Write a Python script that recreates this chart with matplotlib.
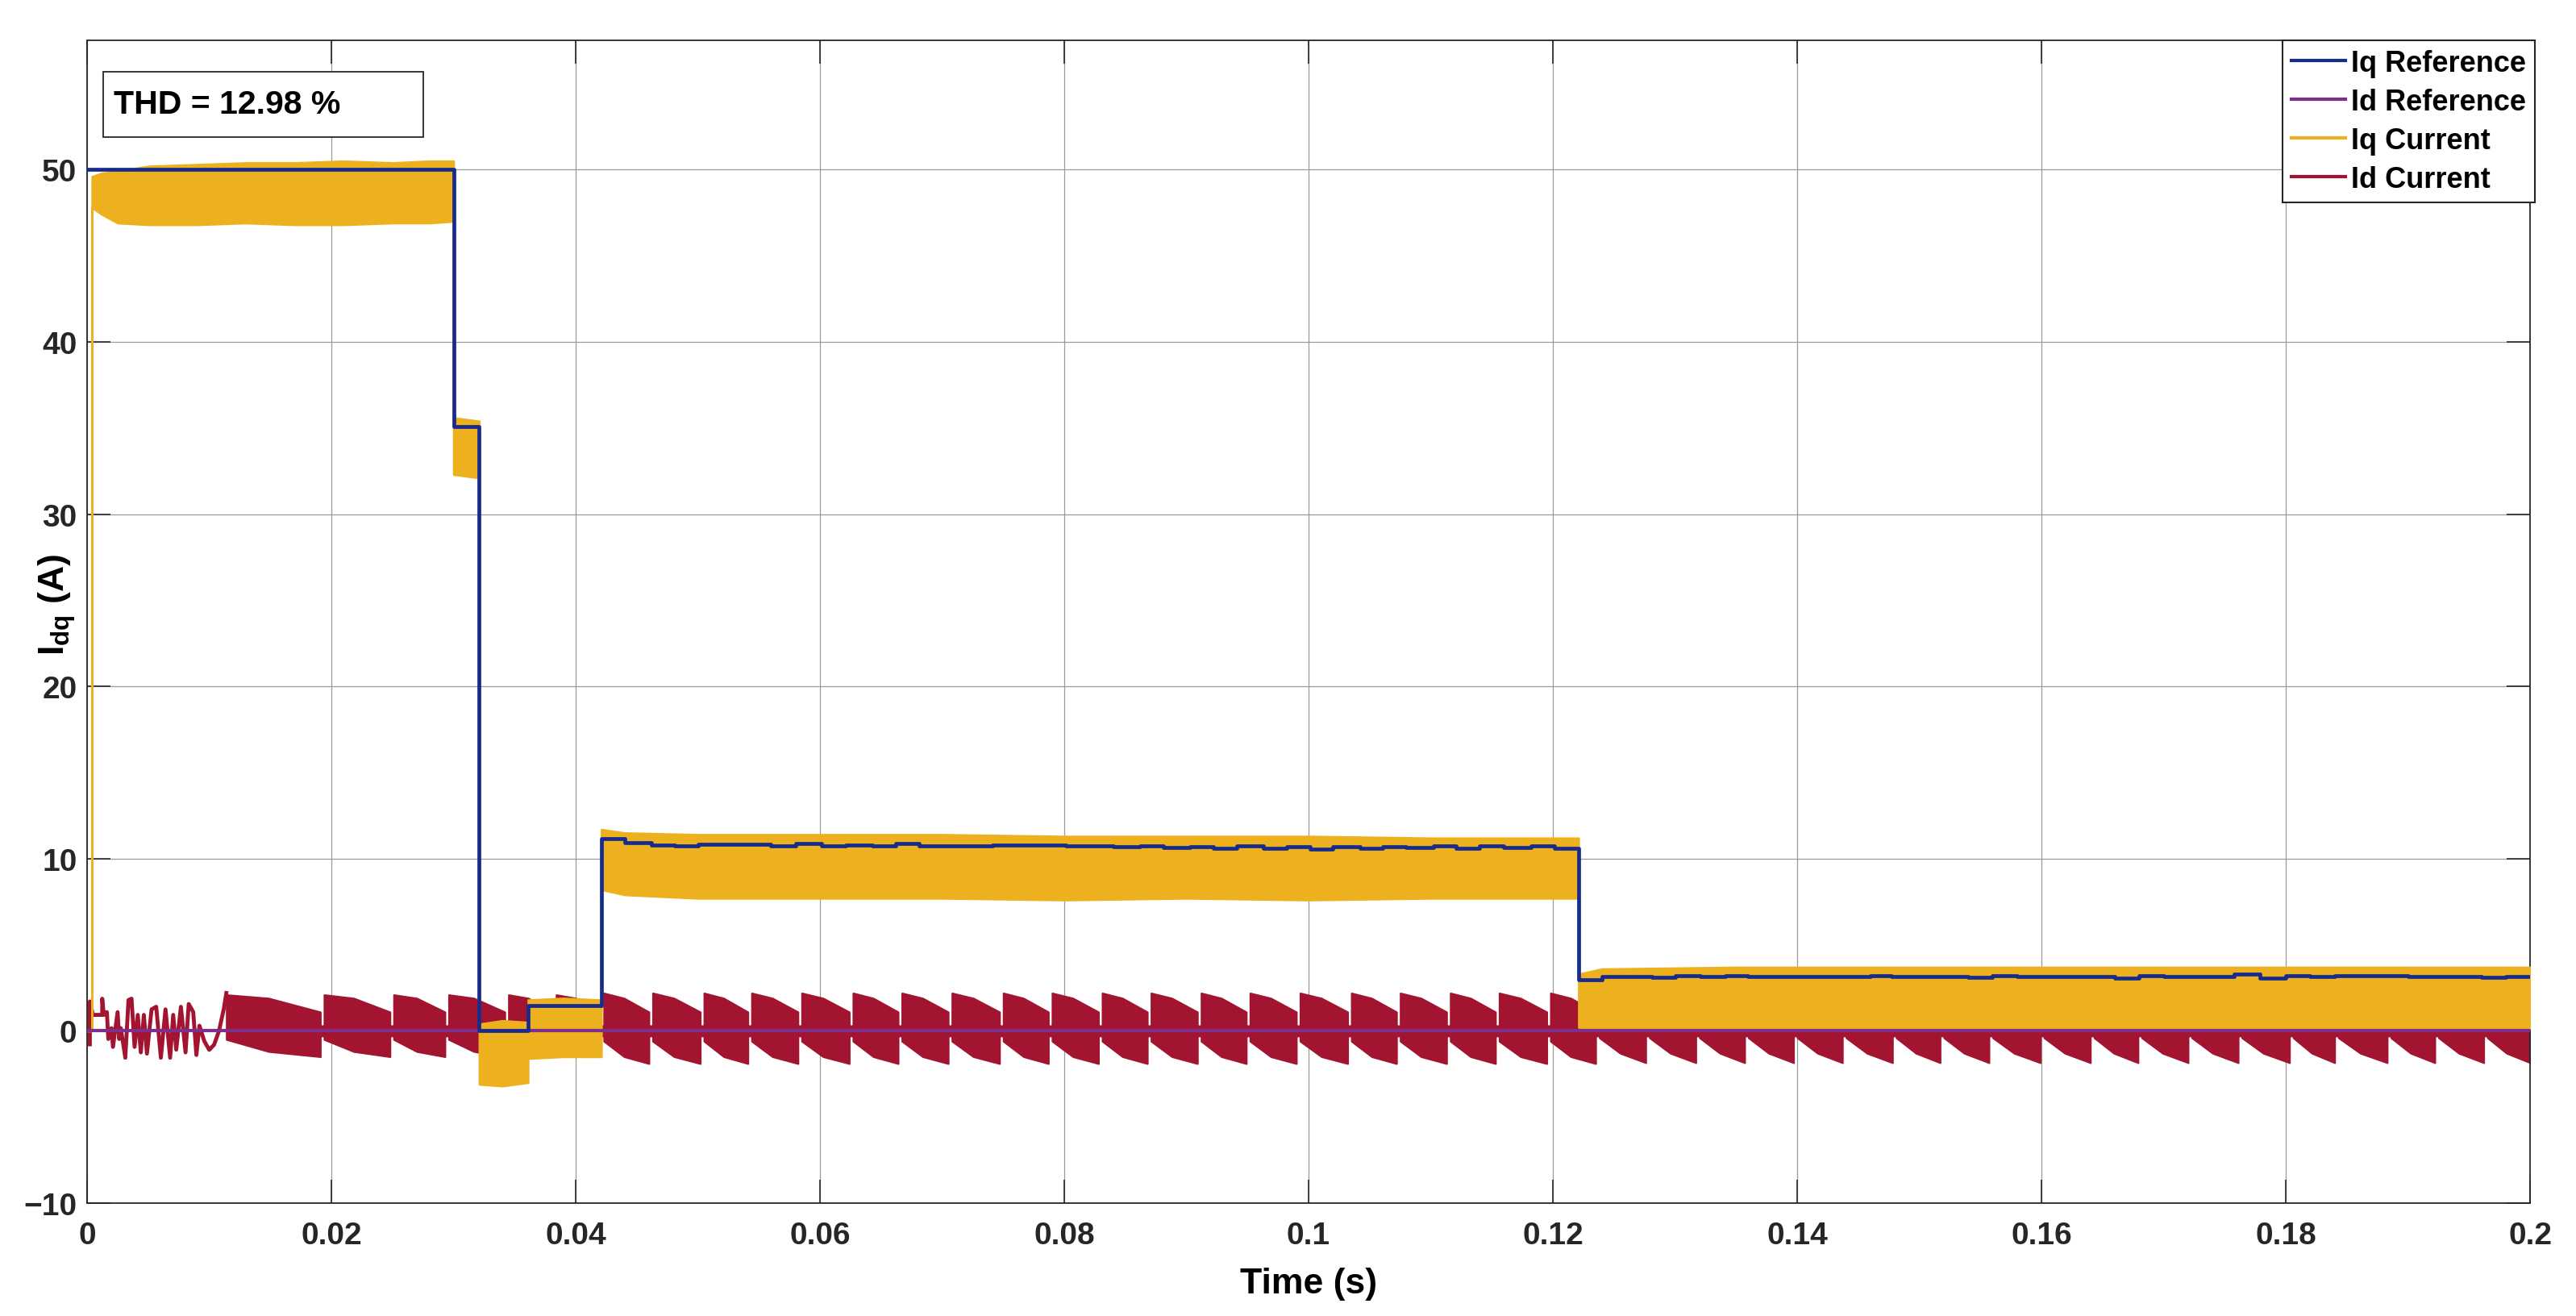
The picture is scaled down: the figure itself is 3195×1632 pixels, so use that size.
import numpy as np
import matplotlib
matplotlib.use("Agg")
from matplotlib import pyplot as plt
from matplotlib.lines import Line2D
from matplotlib.patches import Rectangle

# ---- values ----
# Iq reference, step levels (start time, level)
iq_ref_t = [0.0, 0.0300, 0.0321, 0.0361, 0.0421, 0.0440, 0.0462, 0.0481, 0.0500, 0.0560,
            0.0580, 0.0601, 0.0621, 0.0643, 0.0662, 0.0681, 0.0701, 0.0722, 0.0741, 0.0801,
            0.0840, 0.0862, 0.0881, 0.0903, 0.0922, 0.0941, 0.0963, 0.0982, 0.1001, 0.1020,
            0.1042, 0.1061, 0.1080, 0.1102, 0.1121, 0.1140, 0.1160, 0.1182, 0.1201, 0.1221,
            0.1240, 0.1281, 0.1300, 0.1321, 0.1341, 0.1360, 0.1460, 0.1477, 0.1540, 0.1560,
            0.1580, 0.1660, 0.1680, 0.1700, 0.1758, 0.1779, 0.1800, 0.1820, 0.1840, 0.1860,
            0.1900, 0.1960, 0.1980, 0.2000]
iq_ref_v = [50.0, 35.1, 0.0, 1.47, 11.14, 10.95, 10.80, 10.75, 10.83, 10.75,
            10.86, 10.72, 10.78, 10.75, 10.86, 10.72, 10.75, 10.72, 10.78, 10.72,
            10.67, 10.75, 10.66, 10.70, 10.62, 10.72, 10.59, 10.70, 10.55, 10.70,
            10.59, 10.70, 10.66, 10.75, 10.62, 10.75, 10.64, 10.75, 10.59, 2.96,
            3.16, 3.11, 3.19, 3.16, 3.22, 3.15, 3.19, 3.15, 3.11, 3.18,
            3.15, 3.07, 3.20, 3.16, 3.29, 3.04, 3.20, 3.15, 3.18, 3.21,
            3.15, 3.11, 3.15, 3.15]

# Id reference
id_ref_t = [0.0, 0.2]
id_ref_v = [0.0, 0.0]

# Iq current, ripple band (upper / lower envelope)
iq_cur_t = [0.0, 0.0004, 0.0004, 0.0012, 0.0025, 0.0050, 0.0090, 0.0130, 0.0170, 0.0210, 0.0250, 0.0280, 0.0300,
            0.0300, 0.0321,
            0.0321, 0.0340, 0.0361,
            0.0361, 0.0390, 0.0421,
            0.0421, 0.0440, 0.0500, 0.0600, 0.0700, 0.0800, 0.0900, 0.1000, 0.1100, 0.1221,
            0.1221, 0.1240, 0.1350, 0.1500, 0.1650, 0.1800, 0.2000]
iq_cur_hi = [0.0, 0.0, 49.6, 49.8, 49.9, 50.2, 50.3, 50.4, 50.4, 50.5, 50.4, 50.5, 50.5,
             35.6, 35.4,
             0.4, 0.6, 0.5,
             1.8, 1.9, 1.8,
             11.7, 11.5, 11.4, 11.4, 11.4, 11.3, 11.3, 11.3, 11.2, 11.2,
             3.3, 3.6, 3.7, 3.7, 3.7, 3.7, 3.7]
iq_cur_lo = [0.0, 0.0, 47.8, 47.4, 46.9, 46.8, 46.8, 46.9, 46.8, 46.8, 46.9, 46.9, 47.0,
             32.3, 32.1,
             -3.1, -3.2, -3.0,
             -1.6, -1.5, -1.5,
             8.2, 7.9, 7.7, 7.7, 7.7, 7.6, 7.7, 7.6, 7.7, 7.7,
             0.2, 0.15, 0.15, 0.15, 0.15, 0.15, 0.15]

# Id current, start-up part (single trace)
id_early_t = [0.00023, 0.00023, 0.00048, 0.00124, 0.00124, 0.00137, 0.00162, 0.00174, 0.00200, 0.00212,
              0.00250, 0.00263, 0.00276, 0.00313, 0.00339, 0.00364, 0.00389, 0.00415, 0.00440, 0.00465,
              0.00490, 0.00528, 0.00566, 0.00604, 0.00642, 0.00680, 0.00705, 0.00730, 0.00768, 0.00806,
              0.00832, 0.00869, 0.00895, 0.00920, 0.00960, 0.01000, 0.01040, 0.01080, 0.01120, 0.01140]
id_early_v = [-0.78, 1.71, 0.93, 0.93, 1.87, 0.93, 1.09, -0.47, 0.16, -0.93,
              1.09, -0.47, 0.16, -1.56, 1.79, 1.87, -0.93, 0.93, -1.25, 0.93,
              -1.32, 1.25, 1.40, -1.56, 1.25, -1.56, 0.93, -1.09, 1.40, -1.25,
              1.56, 1.10, -1.40, 0.30, -0.60, -1.10, -0.80, 0.00, 1.30, 2.20]

# Id current, ripple bursts: start time of each burst
id_burst_start = [0.0114, 0.0194, 0.0251, 0.0296, 0.0345, 0.0384, 0.0423, 0.0463, 0.0505, 0.0544,
                  0.0585, 0.0627, 0.0667, 0.0708, 0.0750, 0.0790, 0.0831, 0.0871, 0.0912, 0.0952,
                  0.0993, 0.1035, 0.1075, 0.1116, 0.1156, 0.1198, 0.1238, 0.1279, 0.1320, 0.1360,
                  0.1400, 0.1440, 0.1481, 0.1520, 0.1560, 0.1602, 0.1643, 0.1682, 0.1723, 0.1764,
                  0.1806, 0.1843, 0.1886, 0.1925, 0.1965]
# burst envelope per operating region (before 0.042 / 0.042-0.122 / after 0.122)
id_region_edges = [0.042, 0.1225]
id_hi_start = [2.1, 2.2, 0.8]
id_hi_mid = [1.9, 1.9, 0.6]
id_hi_end = [1.1, 1.1, 0.3]
id_lo_start = [-0.5, -0.6, -0.4]
id_lo_mid = [-1.2, -1.5, -1.3]
id_lo_end = [-1.5, -1.9, -1.85]

xticks = [0, 0.02, 0.04, 0.06, 0.08, 0.1, 0.12, 0.14, 0.16, 0.18, 0.2]
xtick_labels = ['0', '0.02', '0.04', '0.06', '0.08', '0.1', '0.12', '0.14', '0.16', '0.18', '0.2']
yticks = [-10, 0, 10, 20, 30, 40, 50]

IQ_REF = '#172b8c'
ID_REF = '#7e2f8e'
IQ_CUR = '#edb120'
ID_CUR = '#a2142f'


def burst_envelope(starts, gap=0.0003, t_end=0.2):
    t, hi, lo = [], [], []
    for i, s in enumerate(starts):
        e = starts[i + 1] - gap if i + 1 < len(starts) else t_end
        r = int(np.searchsorted(id_region_edges, s, side='right'))
        m = s + 0.45 * (e - s)
        t += [s, s, m, e, e]
        hi += [0.3, id_hi_start[r], id_hi_mid[r], id_hi_end[r], 0.3]
        lo += [-0.3, id_lo_start[r], id_lo_mid[r], id_lo_end[r], -0.3]
    return t, hi, lo


plt.rcParams['font.family'] = ['Liberation Sans', 'DejaVu Sans']
plt.rcParams['font.weight'] = 'bold'
plt.rcParams['axes.labelweight'] = 'bold'
plt.rcParams['mathtext.fontset'] = 'custom'
plt.rcParams['mathtext.rm'] = 'Liberation Sans:bold'
plt.rcParams['mathtext.bf'] = 'Liberation Sans:bold'
plt.rcParams['text.color'] = '#262626'

fig = plt.figure(figsize=(31.95, 16.33), dpi=100)
ax = fig.add_axes([0.0338, 0.0857, 0.9484, 0.8830])

bt, bhi, blo = burst_envelope(id_burst_start)
ax.fill_between(bt, blo, bhi, facecolor=ID_CUR, edgecolor=ID_CUR, lw=1.5, zorder=2)
ax.plot(id_early_t, id_early_v, color=ID_CUR, lw=3.5, zorder=2)
ax.fill_between(iq_cur_t, iq_cur_lo, iq_cur_hi, facecolor=IQ_CUR, edgecolor=IQ_CUR, lw=1.8, zorder=3)
ax.plot(id_ref_t, id_ref_v, color=ID_REF, lw=3.0, zorder=4)
ax.step(iq_ref_t, iq_ref_v, where='post', color=IQ_REF, lw=3.4, zorder=5)

ax.set_xlim(0, 0.2)
ax.set_ylim(-10, 57.5)
ax.set_xticks(xticks)
ax.set_xticklabels(xtick_labels)
ax.set_yticks(yticks)
ax.tick_params(direction='in', length=21, width=1.2, top=True, right=True,
               labelsize=28, colors='#262626')
ax.tick_params(axis='x', pad=16)
ax.tick_params(axis='y', pad=9)
ax.set_axisbelow(True)
ax.grid(True, color='#9a9a9a', lw=0.9)
for sp in ax.spines.values():
    sp.set_color('#262626')
    sp.set_linewidth(1.3)

ax.set_xlabel('Time (s)', fontsize=32, labelpad=15)
ax.set_ylabel(r'I$_{\mathbf{dq}}$ (A)', fontsize=32)
ax.yaxis.set_label_coords(-0.004, 0.515)

ax.add_patch(Rectangle((0.0066, 0.917), 0.131, 0.056, transform=ax.transAxes,
                       facecolor='white', edgecolor='#262626', lw=1.3, zorder=6))
ax.text(0.0109, 0.945, 'THD = 12.98 %', transform=ax.transAxes, fontsize=29.5,
        fontweight='bold', color='black', ha='left', va='center', zorder=7)

handles = [Line2D([], [], color=IQ_REF, lw=3.0), Line2D([], [], color=ID_REF, lw=3.0),
           Line2D([], [], color=IQ_CUR, lw=3.0), Line2D([], [], color=ID_CUR, lw=3.0)]
leg = ax.legend(handles, ['Iq Reference', 'Id Reference', 'Iq Current', 'Id Current'],
                loc='upper right', bbox_to_anchor=(1.002, 1.0), borderaxespad=0,
                fontsize=26, handlelength=1.85, handletextpad=0.2, borderpad=0.3,
                labelspacing=0.36, fancybox=False, framealpha=1, edgecolor='#262626')
leg.get_frame().set_linewidth(1.5)
for txt in leg.get_texts():
    txt.set_color('black')

fig.savefig('out.png', dpi=100)
plt.close()
